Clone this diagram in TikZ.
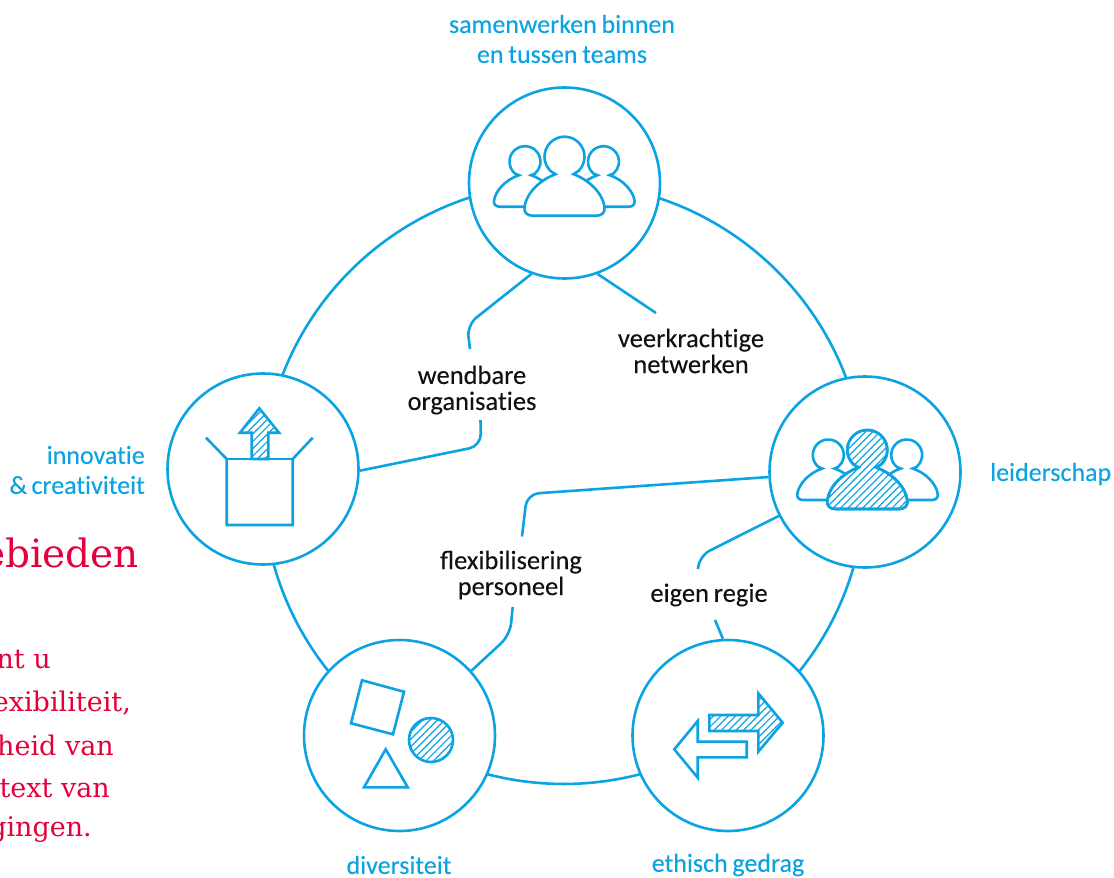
\documentclass[tikz,border=0pt]{standalone}
\usepackage{fontspec}
\setmainfont[Ligatures=NoCommon,WordSpace=0.8,FakeBold=0.12]{Carlito}
\newfontfamily\redfont{DejaVu Serif}
\usetikzlibrary{patterns.meta,backgrounds}
\definecolor{sky}{HTML}{0BA3E2}
\definecolor{crimson}{HTML}{E4003A}
\definecolor{ink}{HTML}{111111}
\tikzset{
  hub/.style={circle,draw=sky,line width=2.6pt,fill=white,minimum size=191pt,inner sep=0pt},
  link/.style={draw=sky,line width=2.6pt,rounded corners=12pt},
  ringarc/.style={draw=sky,line width=2.6pt},
  icon/.style={draw=sky,line width=2.6pt,line join=miter,fill=white},
  hatched/.style={draw=sky,line width=2.6pt,pattern={Lines[angle=45,distance=5.2pt,line width=1.2pt]},pattern color=sky},
  blue text/.style={text=sky,inner sep=0pt,align=center,font=\fontsize{26}{30}\selectfont},
  blue line/.style={text=sky,inner sep=0pt,font=\fontsize{26}{30}\selectfont},
  black text/.style={text=ink,inner sep=0pt,align=center,font=\fontsize{26.5}{26}\selectfont},
  red big/.style={text=crimson,inner sep=0pt,anchor=east,font=\redfont\fontsize{39}{41}\selectfont},
  red body/.style={text=crimson,inner sep=0pt,anchor=east,font=\redfont\fontsize{27}{30}\selectfont},
  pics/bigman/.style={code={
    \path[pic actions]
      (-9,17.5) -- (-14.14,14.14) arc[start angle=135,end angle=405,radius=20] -- (9,17.5)
      .. controls (24,23) and (38,36) .. (40,50) .. controls (41,56) and (37,59) .. (32,59)
      -- (-32,59) .. controls (-37,59) and (-41,56) .. (-40,50)
      .. controls (-38,36) and (-24,23) .. (-9,17.5) -- cycle;}},
  pics/smallman/.style={code={
    \path[pic actions]
      (-6,13.5) -- (-9.96,11.87) arc[start angle=130,end angle=410,radius=15.5] -- (6,13.5)
      .. controls (20,18) and (30,30) .. (31,39) .. controls (31.5,43) and (29,45) .. (25,45)
      -- (-25,45) .. controls (-29,45) and (-31.5,43) .. (-31,39)
      .. controls (-30,30) and (-20,18) .. (-6,13.5) -- cycle;}},
}
\begin{document}
\begin{tikzpicture}[x=1pt,y=1pt,yscale=-1]
\useasboundingbox (0,0) rectangle (1114,878);
\begin{scope}
\clip (0,0) rectangle (1114,878);

% hubs
\node[hub] (top) at (564.5,183) {};
\node[hub] (right) at (865,472) {};
\node[hub] (br) at (728,735.5) {};
\node[hub] (bl) at (399.5,735.5) {};
\node[hub] (left) at (263,469) {};

% ring
\begin{scope}[on background layer]
\draw[ringarc] (top.center) to[bend right=44,looseness=.99] (right.center);
\draw[ringarc] (right.center) to[bend right=30,looseness=.91] (br.center);
\draw[ringarc] (br.center) to[bend right=33,looseness=.926] (bl.center);
\draw[ringarc] (bl.center) to[bend right=30,looseness=.91] (left.center);
\draw[ringarc] (left.center) to[bend right=44,looseness=.99] (top.center);
\end{scope}

% labels in the ring
\node[black text] (wend) at (472,390) {wendbare\\organisaties};
\node[black text] (veer) at (691,351) {veerkrachtige\\netwerken};
\node[black text] (flex) at (511,575) {ﬂexibilisering\\personeel};
\node[black text] (regie) at (709,595) {eigen regie};

% connectors
\coordinate (wendA) at (470,349);
\coordinate (wendAk) at (467,325);
\coordinate (wendB) at (480.5,420);
\coordinate (wendBk) at (481,446);
\coordinate (veerA) at (656,313);
\coordinate (flexA) at (522,536.5);
\coordinate (flexAk) at (527,494);
\coordinate (flexB) at (512.7,607);
\coordinate (flexBk) at (510,635);
\coordinate (regA) at (698,569);
\coordinate (regAk) at (699,556);
\coordinate (regB) at (715,620);
\draw[link] (top.250.9) -- (wendAk) -- (wendA);
\draw[link] (left.-1.6) -- (wendBk) -- (wendB);
\draw[link] (top.290) -- (veerA);
\draw[link] (right.183.6) -- (flexAk) -- (flexA);
\draw[link] (bl.42.9) -- (flexBk) -- (flexB);
\draw[link] (right.207.9) -- (regAk) -- (regA);
\draw[link] (br.93) -- (regB);

% people, top
\pic[icon,transform shape] at (525,161.7) {smallman};
\pic[icon,transform shape] at (603.5,161.7) {smallman};
\pic[icon,transform shape] at (564.5,156.7) {bigman};

% people, right
\pic[icon,transform shape] at (828.3,455) {smallman};
\pic[icon,transform shape] at (906.7,455) {smallman};
\pic[icon,transform shape] at (867.3,450) {bigman};
\pic[hatched,transform shape] at (867.3,450) {bigman};

% box with arrow
\path[icon,fill=none] (206,437.7) -- (226.7,459) -- (226.7,525) -- (292.7,525) -- (292.7,459) -- (312.7,437.7);
\path[icon,fill=none] (226.7,459) -- (292.7,459);
\path[hatched,line join=miter] (251.7,459) -- (251.7,432.7) -- (240,432.7) -- (259.3,408.3) -- (279,432.7) -- (268.3,432.7) -- (268.3,459) -- cycle;

% shapes
\path[icon] (362,680.3) -- (404,691.7) -- (393,734.3) -- (351,723.3) -- cycle;
\path[hatched] (431,740) circle[radius=22];
\path[icon] (385.7,749.3) -- (364,787.3) -- (407.7,787.3) -- cycle;

% arrows
\path[hatched,line join=miter] (709.3,715) -- (758.3,715) -- (758.3,693.3) -- (782.7,722.7) -- (758.3,751.7) -- (758.3,731) -- (709.3,731) -- cycle;
\path[icon] (674.3,749.3) -- (697.7,721) -- (697.7,741.7) -- (746.7,741.7) -- (746.7,757.3) -- (697.7,757.3) -- (697.7,777.7) -- cycle;

% outer labels
\node[blue text] (lt) at (562,39) {samenwerken binnen\\en tussen teams};
\node[blue text,align=right,anchor=east] (ll) at (145,470) {innovatie\\\&\,creativiteit};
\node[blue line,anchor=west] (lr) at (990,474) {leiderschap};
\node[blue line] (lbl) at (399,865) {diversiteit};
\node[blue line] (lbr) at (728,865) {ethisch gedrag};

% red text, cut off by the edge
\node[red big] (r0) at (139,553) {ebieden};
\node[red body] (r1) at (51,660) {nt u};
\node[red body] (r2) at (131,703) {exibiliteit,};
\node[red body] (r3) at (114,745) {heid van};
\node[red body] (r4) at (110,788) {text van};
\node[red body] (r5) at (92,830) {gingen.};
\end{scope}
\end{tikzpicture}
\end{document}
